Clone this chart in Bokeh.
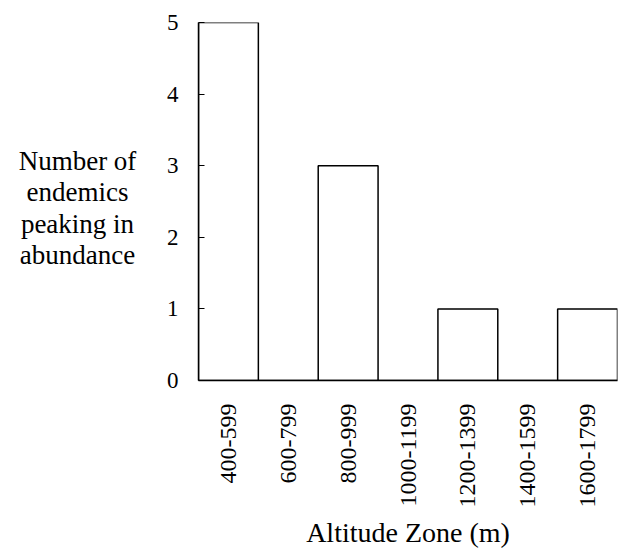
import math
from bokeh.plotting import figure
from bokeh.layouts import row
from bokeh.models import FactorRange, Range1d, FixedTicker, Label
from bokeh.embed import file_html
from bokeh.resources import INLINE

zones = ["400-599", "600-799", "800-999", "1000-1199", "1200-1399", "1400-1599", "1600-1799"]
counts = [5, 0, 3, 0, 1, 0, 1]
y_ticks = [0, 1, 2, 3, 4, 5]
y_label_lines = ["Number of", "endemics", "peaking in", "abundance"]

FONT = "Liberation Serif"

# main chart
p = figure(frame_width=419, frame_height=358, output_backend="svg", toolbar_location=None,
           x_range=FactorRange(*zones, range_padding=0), y_range=Range1d(0, 5),
           min_border_left=48, min_border_right=3, min_border_top=22, min_border_bottom=0)

p.vbar(x=zones, top=counts, width=1.0, fill_color="white", line_color="black", line_width=1.5)

p.outline_line_color = None
p.xgrid.grid_line_color = None
p.ygrid.grid_line_color = None
p.background_fill_color = "white"
p.border_fill_color = "white"

xa = p.xaxis[0]
xa.major_tick_line_color = None
xa.minor_tick_line_color = None
xa.axis_line_color = "black"
xa.axis_line_width = 1.5
xa.major_label_orientation = math.pi / 2
xa.major_label_standoff = 17
xa.major_label_text_font = FONT
xa.major_label_text_font_size = "24px"
xa.major_label_text_color = "black"
xa.axis_label = "Altitude Zone (m)"
xa.axis_label_text_font = FONT
xa.axis_label_text_font_style = "normal"
xa.axis_label_text_font_size = "28px"
xa.axis_label_text_color = "black"
xa.axis_label_standoff = 7

ya = p.yaxis[0]
ya.ticker = FixedTicker(ticks=y_ticks)
ya.axis_line_color = "black"
ya.axis_line_width = 1.5
ya.major_tick_in = 6
ya.major_tick_out = 0
ya.major_tick_line_color = "black"
ya.minor_tick_line_color = None
ya.major_label_standoff = 20
ya.major_label_text_font = FONT
ya.major_label_text_font_size = "23px"
ya.major_label_text_color = "black"

# side panel holding the centred, multi-line y-axis caption
side = figure(frame_width=150, frame_height=358, output_backend="svg", toolbar_location=None,
              x_range=Range1d(0, 150), y_range=Range1d(0, 5),
              x_axis_type=None, y_axis_type=None,
              min_border_left=0, min_border_right=0, min_border_top=22, min_border_bottom=160)
side.outline_line_color = None
side.xgrid.grid_line_color = None
side.ygrid.grid_line_color = None
side.background_fill_color = "white"
side.border_fill_color = "white"

line_y = [3.07, 2.63, 2.19, 1.75]
for txt, ly in zip(y_label_lines, line_y):
    side.add_layout(Label(x=77, y=ly, text=txt, text_align="center", text_baseline="middle",
                          text_font=FONT, text_font_size="27px", text_color="black"))

layout = row(side, p, spacing=0)
open("out.html", "w").write(file_html(layout, INLINE))
